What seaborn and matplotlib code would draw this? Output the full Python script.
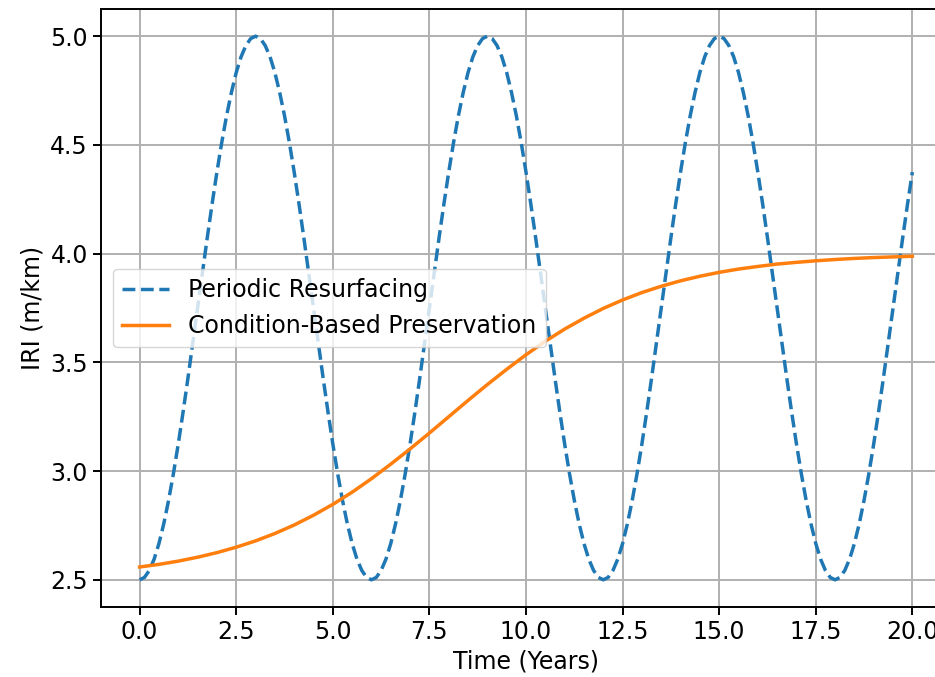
import matplotlib
matplotlib.use('Agg')
import matplotlib.pyplot as plt
import numpy as np
import pandas as pd
import seaborn as sns

plt.rcParams['font.size'] = 17
plt.rcParams['font.family'] = ['DejaVu Sans']

# 定期再舗装（0.125年刻みで読み取り）
t_periodic = [i * 0.125 for i in range(161)]
iri_periodic = [
    2.500, 2.511, 2.543, 2.595, 2.667, 2.758, 2.866, 2.989, 3.125, 3.272, 3.427, 3.587,
    3.750, 3.913, 4.073, 4.228, 4.375, 4.511, 4.634, 4.741, 4.833, 4.905, 4.957, 4.989,
    5.000, 4.989, 4.957, 4.905, 4.833, 4.741, 4.634, 4.511, 4.375, 4.228, 4.073, 3.913,
    3.750, 3.587, 3.427, 3.272, 3.125, 2.989, 2.866, 2.758, 2.667, 2.595, 2.543, 2.511,
    2.500, 2.511, 2.543, 2.595, 2.667, 2.758, 2.866, 2.989, 3.125, 3.272, 3.427, 3.587,
    3.750, 3.913, 4.073, 4.228, 4.375, 4.511, 4.634, 4.741, 4.833, 4.905, 4.957, 4.989,
    5.000, 4.989, 4.957, 4.905, 4.833, 4.741, 4.634, 4.511, 4.375, 4.228, 4.073, 3.913,
    3.750, 3.587, 3.427, 3.272, 3.125, 2.989, 2.866, 2.758, 2.667, 2.595, 2.543, 2.511,
    2.500, 2.511, 2.543, 2.595, 2.667, 2.758, 2.866, 2.989, 3.125, 3.272, 3.427, 3.587,
    3.750, 3.913, 4.073, 4.228, 4.375, 4.511, 4.634, 4.741, 4.833, 4.905, 4.957, 4.989,
    5.000, 4.989, 4.957, 4.905, 4.833, 4.741, 4.634, 4.511, 4.375, 4.228, 4.073, 3.913,
    3.750, 3.587, 3.427, 3.272, 3.125, 2.989, 2.866, 2.758, 2.667, 2.595, 2.543, 2.511,
    2.500, 2.511, 2.543, 2.595, 2.667, 2.758, 2.866, 2.989, 3.125, 3.272, 3.427, 3.587,
    3.750, 3.913, 4.073, 4.228, 4.375,
]

# 状態基準の予防保全（0.5年刻みで読み取り）
t_condition = [i * 0.5 for i in range(41)]
iri_condition = [
    2.559, 2.571, 2.586, 2.604, 2.625, 2.650, 2.679, 2.713, 2.752, 2.797,
    2.847, 2.903, 2.965, 3.032, 3.102, 3.175, 3.250, 3.325, 3.398, 3.468,
    3.535, 3.597, 3.653, 3.703, 3.748, 3.787, 3.821, 3.850, 3.875, 3.896,
    3.914, 3.929, 3.941, 3.952, 3.960, 3.967, 3.973, 3.978, 3.982, 3.985,
    3.988,
]

df_p = pd.DataFrame({'t': t_periodic, 'iri': iri_periodic})
df_c = pd.DataFrame({'t': t_condition, 'iri': iri_condition})

fig = plt.figure(figsize=(9.35, 6.77), dpi=100)
ax = fig.add_axes([101 / 935, 70 / 677, 850 / 935, 598 / 677])

sns.lineplot(data=df_p, x='t', y='iri', ax=ax, color='#1f77b4', linestyle='--',
             linewidth=2.5, label='Periodic Resurfacing')
sns.lineplot(data=df_c, x='t', y='iri', ax=ax, color='#ff7f0e',
             linewidth=2.5, label='Condition-Based Preservation')

ax.set_xlim(-1, 21)
ax.set_ylim(2.375, 5.125)
ax.set_xticks([0, 2.5, 5, 7.5, 10, 12.5, 15, 17.5, 20])
ax.set_yticks([2.5, 3.0, 3.5, 4.0, 4.5, 5.0])
ax.set_xlabel('Time (Years)')
ax.set_ylabel('IRI (m/km)')
ax.grid(True, color='#b0b0b0', linewidth=1.4)
ax.tick_params(width=1.4, length=6)
for s in ax.spines.values():
    s.set_linewidth(1.4)
ax.legend(loc='center left')

plt.savefig('out.png', dpi=100)
